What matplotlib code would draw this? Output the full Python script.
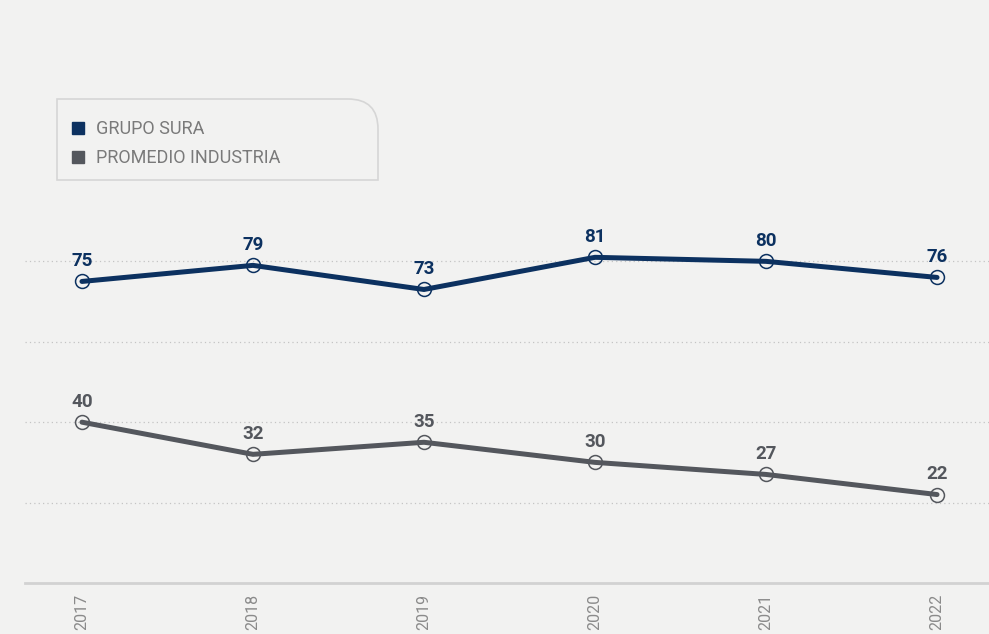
import matplotlib.pyplot as plt
from matplotlib.lines import Line2D
from matplotlib.path import Path
from matplotlib.patches import PathPatch

plt.rcParams['font.family'] = ['Roboto', 'DejaVu Sans']

years = ['2017', '2018', '2019', '2020', '2021', '2022']
grupo_sura = [75, 79, 73, 81, 80, 76]
promedio_industria = [40, 32, 35, 30, 27, 22]
series_names = ['GRUPO SURA', 'PROMEDIO INDUSTRIA']
colors = ['#0c3160', '#54575d']
bg = '#f2f2f1'

fig = plt.figure(figsize=(9.89, 6.34), dpi=100, facecolor=bg)
W, H = 989, 634
ax = fig.add_axes([25 / W, (H - 583) / H, (W - 25) / W, 583 / H])
ax.set_facecolor(bg)

x = list(range(len(years)))
for vals, col in zip([grupo_sura, promedio_industria], colors):
    ax.plot(x, vals, color=col, lw=3.6, solid_capstyle='round', zorder=3)
    ax.plot(x, vals, 'o', ms=10, mfc='none', mec=col, mew=1.1, zorder=4)
    for xi, v in zip(x, vals):
        ax.annotate(str(v), (xi, v), xytext=(0, 8), textcoords='offset points',
                    ha='center', va='bottom', fontsize=13.5, fontweight='bold',
                    color=col, zorder=5)

ax.set_xlim(-0.333, 5.304)
ax.set_ylim(0, 145)
ax.set_yticks([20, 40, 60, 80])
ax.yaxis.grid(True, ls=(0, (1, 2.5)), color='#c4c4c4', lw=0.9)
ax.tick_params(axis='y', left=False, labelleft=False)
ax.set_xticks(x)
ax.set_xticklabels(years, rotation=90, fontsize=11.5, color='#8a8a8a', va='top')
ax.tick_params(axis='x', length=0, pad=8)
for s in ['top', 'right', 'left']:
    ax.spines[s].set_visible(False)
ax.spines['bottom'].set_color('#d2d2d2')
ax.spines['bottom'].set_linewidth(2)

# legend box with rounded top-right corner (figure pixel coords)
x0, x1, y0, y1, r = 57, 378, H - 180, H - 99, 30
verts = [(x0, y0), (x1, y0), (x1, y1 - r), (x1, y1), (x1 - r, y1), (x0, y1), (x0, y0)]
codes = [Path.MOVETO, Path.LINETO, Path.LINETO, Path.CURVE3, Path.CURVE3, Path.LINETO, Path.CLOSEPOLY]
box = PathPatch(Path([(vx / W, vy / H) for vx, vy in verts], codes),
                transform=fig.transFigure, facecolor='none', edgecolor='#d6d6d6', lw=1.2)
fig.patches.append(box)

handles = [Line2D([], [], marker='s', ls='none', color=c, ms=8) for c in colors]
fig.legend(handles, series_names, loc='upper left', bbox_to_anchor=(62 / W, 1 - 113 / H),
           frameon=False, fontsize=13, labelcolor='#7a7a7a', handletextpad=0.5,
           labelspacing=0.6, handlelength=1.0, borderaxespad=0)

fig.savefig('out.png', dpi=100, facecolor=bg)
